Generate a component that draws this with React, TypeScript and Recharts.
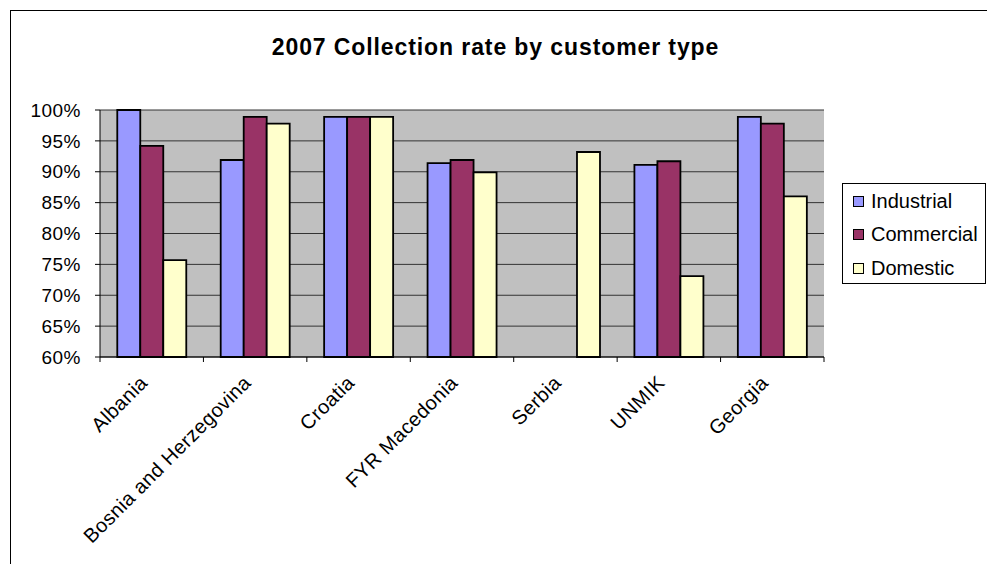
import { BarChart, Bar, XAxis, YAxis, CartesianGrid } from "recharts";

// Collection rate (%) per country and customer type
const countries = [
  "Albania",
  "Bosnia and Herzegovina",
  "Croatia",
  "FYR Macedonia",
  "Serbia",
  "UNMIK",
  "Georgia",
];
const industrial = [100, 91.9, 98.9, 91.4, null, 91.1, 98.9];
const commercial = [94.2, 98.9, 98.9, 91.9, null, 91.7, 97.8];
const domestic = [75.7, 97.8, 98.9, 89.9, 93.2, 73.1, 86.0];
const yTicks = [60, 65, 70, 75, 80, 85, 90, 95, 100];

const series = [
  { key: "industrial", name: "Industrial", color: "#9999FF" },
  { key: "commercial", name: "Commercial", color: "#993366" },
  { key: "domestic", name: "Domestic", color: "#FFFFCC" },
];

const data = countries.map((name, i) => ({
  name,
  industrial: industrial[i],
  commercial: commercial[i],
  domestic: domestic[i],
}));

const FONT = "Arial, 'Liberation Sans', sans-serif";

// Excel-style category tick: marks sit on the boundaries, label rotated 45deg
function CategoryTick(props: any) {
  const { x, y, payload, index } = props;
  const half = payload && payload.offset ? payload.offset : 51.6;
  return (
    <g>
      <line x1={x - half} x2={x - half} y1={y} y2={y + 5} stroke="#000" />
      {index === countries.length - 1 && (
        <line x1={x + half} x2={x + half} y1={y} y2={y + 5} stroke="#000" />
      )}
      <text
        transform={`translate(${x - 3},${y + 27}) rotate(-45)`}
        textAnchor="end"
        fontSize={20}
        letterSpacing={0.4}
        fontFamily={FONT}
        fill="#000"
      >
        {payload.value}
      </text>
    </g>
  );
}

export default function App() {
  return (
    <div
      style={{
        position: "absolute",
        left: 0,
        top: 0,
        width: 987,
        height: 564,
        overflow: "hidden",
        background: "#fff",
        fontFamily: FONT,
      }}
    >
      <div
        style={{
          position: "absolute",
          left: 10,
          top: 10,
          width: 1000,
          height: 600,
          border: "1px solid #000",
        }}
      />
      <div
        style={{
          position: "absolute",
          left: 0,
          width: 987,
          top: 34,
          textAlign: "center",
          fontWeight: "bold",
          fontSize: 23,
          letterSpacing: 0.9,
          paddingLeft: 2,
        }}
      >
        2007 Collection rate by customer type
      </div>
      <div style={{ position: "absolute", left: 0, top: 0 }}>
        <BarChart
          width={987}
          height={564}
          data={data}
          margin={{ top: 110, right: 163, left: 40, bottom: 107 }}
          barCategoryGap="16.7%"
          barGap={0}
        >
          <CartesianGrid
            vertical={false}
            fill="#C0C0C0"
            fillOpacity={1}
            stroke="#333"
          />
          <XAxis
            dataKey="name"
            height={100}
            interval={0}
            tickLine={false}
            tickSize={0}
            tickMargin={0}
            axisLine={{ stroke: "#000" }}
            tick={<CategoryTick />}
          />
          <YAxis
            width={60}
            domain={[60, 100]}
            ticks={yTicks}
            interval={0}
            tickFormatter={(v) => `${v}%`}
            tickSize={5}
            tickMargin={14}
            axisLine={{ stroke: "#000" }}
            tickLine={{ stroke: "#000" }}
            tick={{ fill: "#000", fontSize: 19, fontFamily: FONT, letterSpacing: 0.5 }}
          />
          <YAxis
            yAxisId="frame"
            orientation="right"
            width={0}
            domain={[60, 100]}
            tick={false}
            tickLine={false}
            axisLine={{ stroke: "#808080" }}
          />
          {series.map((s) => (
            <Bar
              key={s.key}
              dataKey={s.key}
              name={s.name}
              fill={s.color}
              stroke="#000"
              strokeWidth={1.8}
              isAnimationActive={false}
            />
          ))}
        </BarChart>
      </div>
      <div
        style={{
          position: "absolute",
          left: 842,
          top: 183,
          width: 142,
          height: 99,
          border: "1px solid #000",
          background: "#fff",
        }}
      >
        {series.map((s, i) => (
          <div
            key={s.key}
            style={{
              position: "absolute",
              left: 10,
              top: 5 + i * 33.5,
              display: "flex",
              alignItems: "center",
              height: 24,
              fontSize: 20,
              whiteSpace: "nowrap",
            }}
          >
            <span
              style={{
                display: "inline-block",
                width: 9,
                height: 9,
                background: s.color,
                border: "1px solid #000",
                marginRight: 7,
              }}
            />
            {s.name}
          </div>
        ))}
      </div>
    </div>
  );
}
